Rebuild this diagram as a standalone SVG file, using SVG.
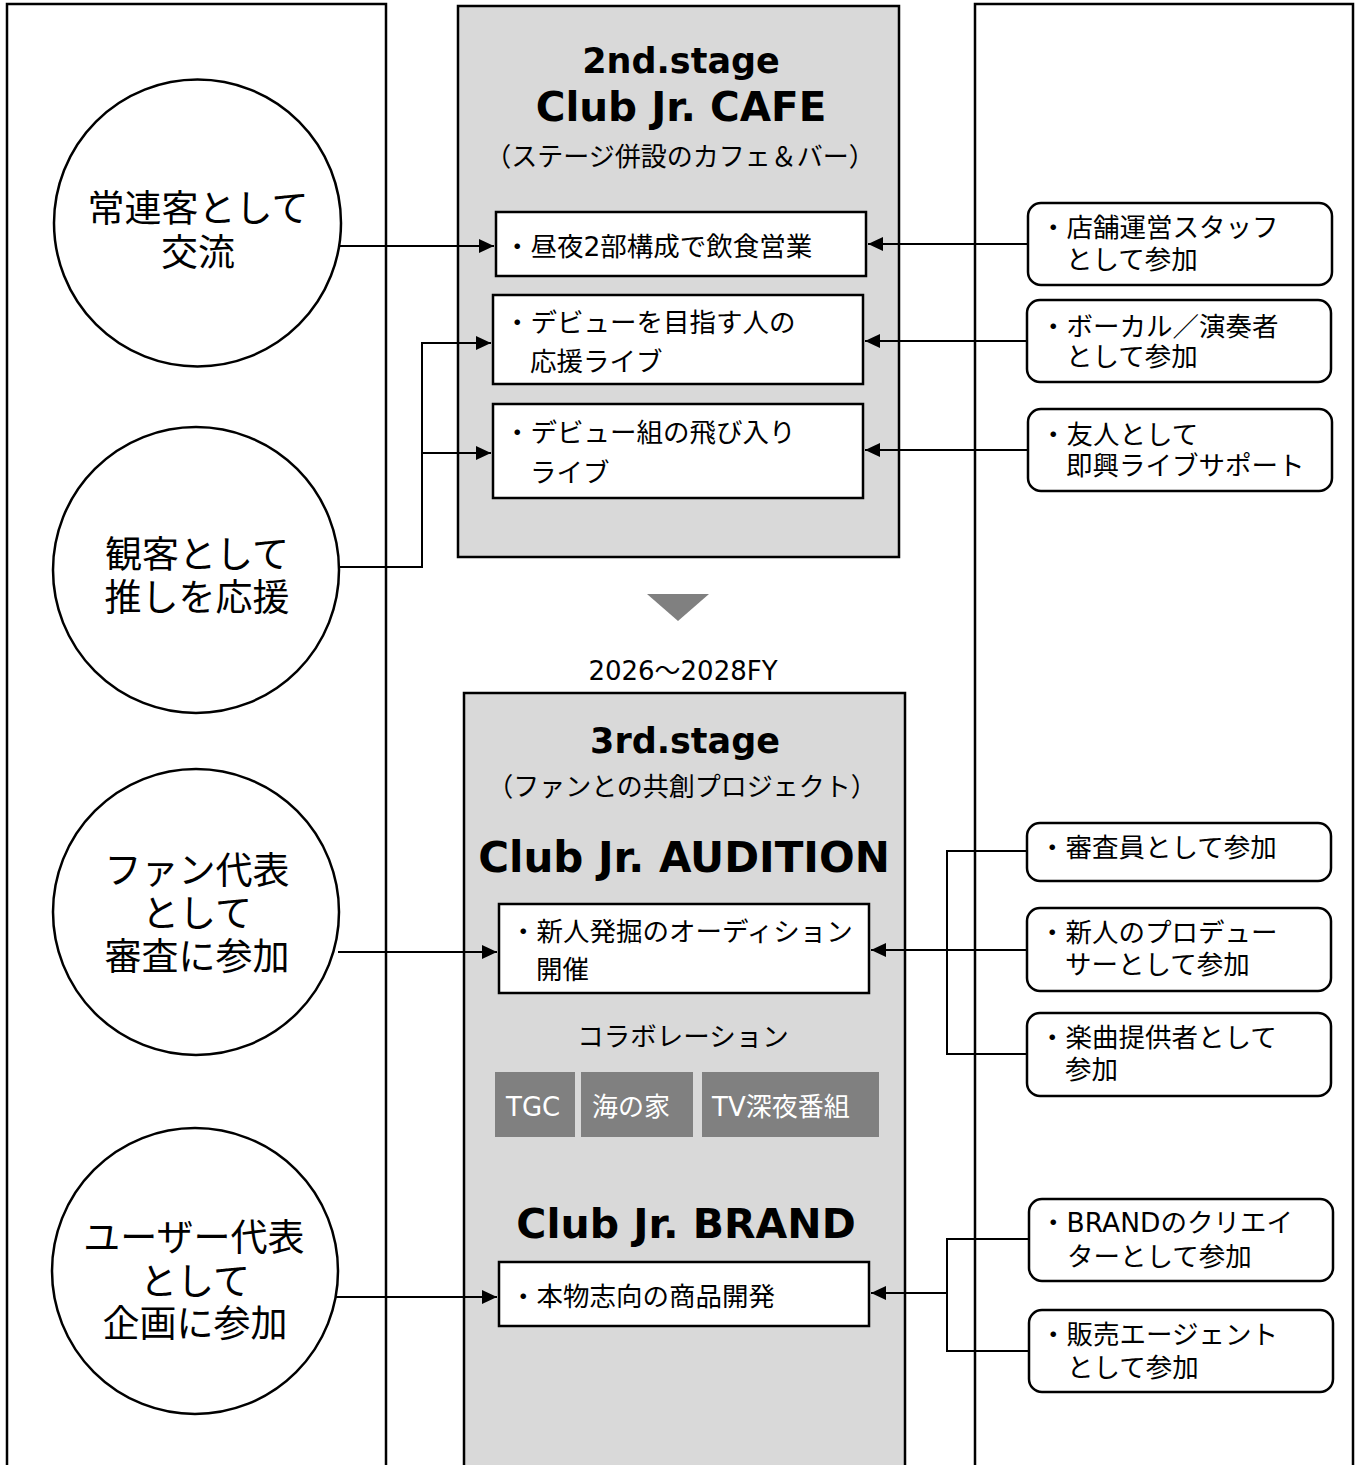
<svg xmlns="http://www.w3.org/2000/svg" width="1363" height="1465" viewBox="0 0 1363 1465">
<style>
text{font-family:"DejaVu Sans","Noto Sans CJK JP",sans-serif;fill:#000}
.panel{fill:#fff;stroke:#000;stroke-width:2.5}
.stage{fill:#d9d9d9;stroke:#000;stroke-width:2.5}
.box{fill:#fff;stroke:#000;stroke-width:2.5}
.rbox{fill:#fff;stroke:#000;stroke-width:2.5}
.circ{fill:#fff;stroke:#000;stroke-width:2.5}
.ct{font-size:37px;text-anchor:middle}
.bt{font-size:26.5px}
.title{font-weight:bold;text-anchor:middle}
.sub{font-size:26px;text-anchor:middle}
.gbox{fill:#808080}
.gt{font-size:26px;fill:#fff}
.conn{fill:none;stroke:#000;stroke-width:2}
</style>
<defs>
<marker id="ah" markerUnits="userSpaceOnUse" markerWidth="15" markerHeight="14" refX="15" refY="7" orient="auto">
<path d="M0,0 L15,7 L0,14 z" fill="#000"/>
</marker>
</defs>
<rect width="1363" height="1465" fill="#fff"/>

<g id="left-panel"><rect class="panel" x="7" y="4" width="379" height="1475"/></g>
<g id="right-panel"><rect class="panel" x="975" y="4" width="378" height="1475"/></g>

<g id="stage2">
<rect class="stage" x="458" y="6" width="441" height="551"/>
<text class="title" x="681" y="73" font-size="35">2nd.stage</text>
<text class="title" x="681" y="121" font-size="40.5">Club Jr. CAFE</text>
<text class="sub" x="680" y="166">（ステージ併設のカフェ＆バー）</text>
</g>
<g id="cafe-1"><rect class="box" x="496" y="212" width="370" height="64"/><text class="bt" x="504" y="256">・昼夜2部構成で飲食営業</text></g>
<g id="cafe-2"><rect class="box" x="493" y="295" width="370" height="89"/><text class="bt" x="504" y="332">・デビューを目指す人の</text><text class="bt" x="530" y="371">応援ライブ</text></g>
<g id="cafe-3"><rect class="box" x="493" y="404" width="370" height="94"/><text class="bt" x="504" y="442">・デビュー組の飛び入り</text><text class="bt" x="530" y="482">ライブ</text></g>

<g id="transition">
<path d="M647,594 L709,594 L678,621 z" fill="#808080"/>
<text x="683" y="680" font-size="26" text-anchor="middle">2026～2028FY</text>
</g>

<g id="stage3">
<rect class="stage" x="464" y="693" width="441" height="790"/>
<text class="title" x="685" y="753" font-size="35">3rd.stage</text>
<text class="sub" x="682" y="796">（ファンとの共創プロジェクト）</text>
<text class="title" x="684" y="872" font-size="42">Club Jr. AUDITION</text>
<text x="683" y="1046" font-size="26.5" text-anchor="middle">コラボレーション</text>
<text class="title" x="686" y="1238" font-size="41">Club Jr. BRAND</text>
</g>
<g id="audition-1"><rect class="box" x="499" y="904" width="370" height="89"/><text class="bt" x="510" y="941">・新人発掘のオーディション</text><text class="bt" x="536" y="979">開催</text></g>
<g id="collab-tgc"><rect class="gbox" x="495" y="1072" width="80" height="65"/><text class="gt" x="506" y="1116">TGC</text></g>
<g id="collab-umi"><rect class="gbox" x="581" y="1072" width="112" height="65"/><text class="gt" x="592" y="1116">海の家</text></g>
<g id="collab-tv"><rect class="gbox" x="702" y="1072" width="177" height="65"/><text class="gt" x="712" y="1116">TV深夜番組</text></g>
<g id="brand-1"><rect class="box" x="499" y="1262" width="370" height="64"/><text class="bt" x="510" y="1306">・本物志向の商品開発</text></g>

<g id="circle-1"><circle class="circ" cx="197.5" cy="223" r="143.5"/><text class="ct" x="198" y="222">常連客として</text><text class="ct" x="198" y="266">交流</text></g>
<g id="circle-2"><circle class="circ" cx="196" cy="570" r="143"/><text class="ct" x="197" y="568">観客として</text><text class="ct" x="197" y="611">推しを応援</text></g>
<g id="circle-3"><circle class="circ" cx="196" cy="912" r="143"/><text class="ct" x="197" y="884">ファン代表</text><text class="ct" x="197" y="927">として</text><text class="ct" x="197" y="970">審査に参加</text></g>
<g id="circle-4"><circle class="circ" cx="195" cy="1271" r="143"/><text class="ct" x="194" y="1251">ユーザー代表</text><text class="ct" x="195" y="1295">として</text><text class="ct" x="195" y="1337">企画に参加</text></g>

<g id="role-1"><rect class="rbox" x="1028" y="203" width="304" height="82" rx="13"/><text class="bt" x="1040" y="237">・店舗運営スタッフ</text><text class="bt" x="1066" y="269">として参加</text></g>
<g id="role-2"><rect class="rbox" x="1027" y="300" width="304" height="82" rx="13"/><text class="bt" x="1040" y="336">・ボーカル／演奏者</text><text class="bt" x="1066" y="366">として参加</text></g>
<g id="role-3"><rect class="rbox" x="1028" y="409" width="304" height="82" rx="13"/><text class="bt" x="1040" y="444">・友人として</text><text class="bt" x="1066" y="475">即興ライブサポート</text></g>
<g id="role-4"><rect class="rbox" x="1027" y="823" width="304" height="58" rx="13"/><text class="bt" x="1039" y="857">・審査員として参加</text></g>
<g id="role-5"><rect class="rbox" x="1027" y="908" width="304" height="83" rx="13"/><text class="bt" x="1039" y="942">・新人のプロデュー</text><text class="bt" x="1065" y="974">サーとして参加</text></g>
<g id="role-6"><rect class="rbox" x="1027" y="1013" width="304" height="83" rx="13"/><text class="bt" x="1039" y="1047">・楽曲提供者として</text><text class="bt" x="1065" y="1079">参加</text></g>
<g id="role-7"><rect class="rbox" x="1029" y="1199" width="304" height="82" rx="13"/><text class="bt" x="1040" y="1232">・BRANDのクリエイ</text><text class="bt" x="1067" y="1266">ターとして参加</text></g>
<g id="role-8"><rect class="rbox" x="1029" y="1310" width="304" height="82" rx="13"/><text class="bt" x="1040" y="1344">・販売エージェント</text><text class="bt" x="1067" y="1377">として参加</text></g>

<g id="connectors">
<path class="conn" d="M339,246 H494" marker-end="url(#ah)"/>
<path class="conn" d="M338,567 H422 V343 H491" marker-end="url(#ah)"/>
<path class="conn" d="M422,453 H491" marker-end="url(#ah)"/>
<path class="conn" d="M338,952 H497" marker-end="url(#ah)"/>
<path class="conn" d="M336,1297 H497" marker-end="url(#ah)"/>
<path class="conn" d="M1028,244 H868" marker-end="url(#ah)"/>
<path class="conn" d="M1027,341 H865" marker-end="url(#ah)"/>
<path class="conn" d="M1028,450 H865" marker-end="url(#ah)"/>
<path class="conn" d="M1027,851 H947 V1054 H1027"/>
<path class="conn" d="M1027,950 H871" marker-end="url(#ah)"/>
<path class="conn" d="M1029,1239 H947 V1351 H1029"/>
<path class="conn" d="M947,1293 H871" marker-end="url(#ah)"/>
</g>
</svg>
